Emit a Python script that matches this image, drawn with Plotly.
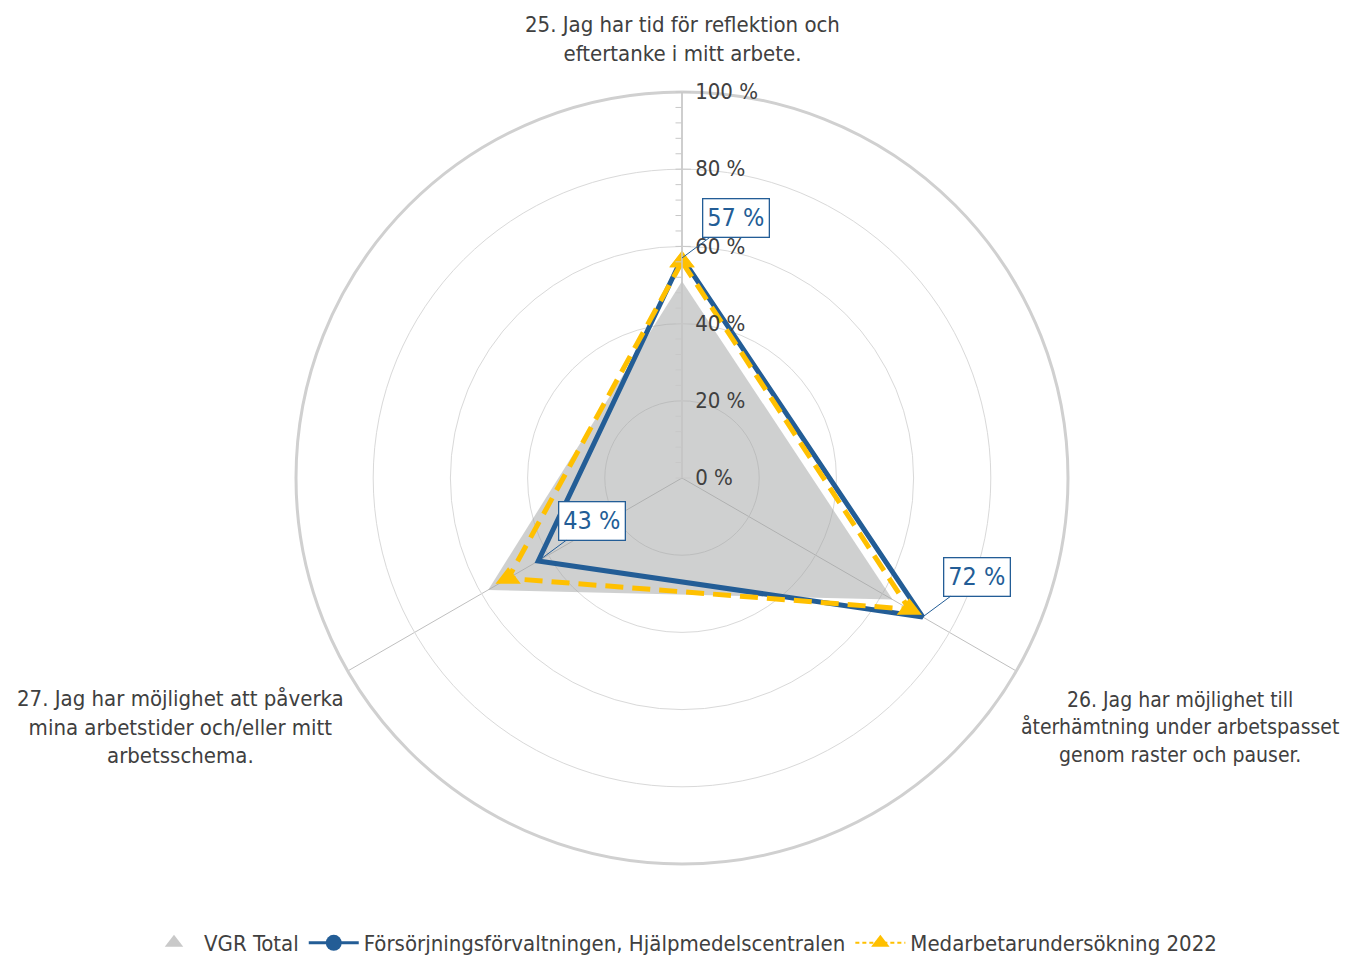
import math
import plotly.graph_objects as go

categories = ["25", "26", "27"]
category_labels = [
    "25. Jag har tid för reflektion och<br>eftertanke i mitt arbete.",
    "26. Jag har möjlighet till<br>återhämtning under arbetspasset<br>genom raster och pauser.",
    "27. Jag har möjlighet att påverka<br>mina arbetstider och/eller mitt<br>arbetsschema.",
]
vgr_total = [51, 63, 58]
forsorjning = [57, 72, 43]
medarb_2022 = [56, 68, 52]
radial_ticks = [0, 20, 40, 60, 80, 100]
radial_ticktext = [f"{v} %" for v in radial_ticks]
minor_ticks = list(range(0, 101, 4))

W, H = 1352, 963
OFF = 8  # page body margin
CX, CY, R = 682 - OFF, 478 - OFF, 386
dom_x = [(CX - R) / W, (CX + R) / W]
dom_y = [(H - CY - R) / H, (H - CY + R) / H]

FONT = "DejaVu Sans Condensed, Liberation Sans Narrow, Noto Sans, sans-serif"
TXT = "#404040"
BLUE = "#235d96"
YEL = "#ffc000"
GREY = "#c9c9c9"

def closed(v):
    return v + v[:1]

theta = closed(categories)

fig = go.Figure()
fig.add_trace(go.Scatterpolar(
    r=closed(vgr_total), theta=theta, name="VGR Total", mode="none",
    fill="toself", fillcolor="rgba(160,162,162,0.5)", showlegend=False,
))
fig.add_trace(go.Scatterpolar(
    r=closed(forsorjning), theta=theta, name="Försörjningsförvaltningen, Hjälpmedelscentralen",
    mode="lines", line=dict(color=BLUE, width=5), showlegend=False,
))
fig.add_trace(go.Scatterpolar(
    r=closed(medarb_2022), theta=theta, name="Medarbetarundersökning 2022",
    mode="lines+markers", line=dict(color=YEL, width=5, dash="18px,9px"),
    marker=dict(symbol="triangle-up", size=22, color=YEL), showlegend=False,
))

# legend entries
fig.add_trace(go.Scatterpolar(
    r=[None], theta=[None], name="VGR Total", mode="markers",
    marker=dict(symbol="triangle-up", size=40, color=GREY),
))
fig.add_trace(go.Scatterpolar(
    r=[None], theta=[None], name="Försörjningsförvaltningen, Hjälpmedelscentralen",
    mode="lines+markers", line=dict(color=BLUE, width=3),
    marker=dict(symbol="circle", size=24, color=BLUE),
))
fig.add_trace(go.Scatterpolar(
    r=[None], theta=[None], name="Medarbetarundersökning 2022",
    mode="lines+markers", line=dict(color=YEL, width=2, dash="4px,3px"),
    marker=dict(symbol="triangle-up", size=20, color=YEL),
))

# minor-tick overlay
fig.add_trace(go.Scatterpolar(r=[None], theta=[None], subplot="polar2", showlegend=False))

# invisible cartesian overlay matching the polar area (for boxed data labels)
fig.add_trace(go.Scatter(x=[], y=[], showlegend=False, hoverinfo="skip"))

angles = {c: 90 - 120 * i for i, c in enumerate(categories)}
for c, v in zip(categories, forsorjning):
    a = math.radians(angles[c])
    fig.add_annotation(
        x=v * math.cos(a), y=v * math.sin(a), xref="x", yref="y",
        text=f"{v} %", showarrow=True, arrowhead=0, arrowwidth=1,
        arrowcolor=BLUE, ax=54, ay=-40, standoff=0,
        bgcolor="white", bordercolor=BLUE, borderwidth=1.3, borderpad=4,
        font=dict(family=FONT, size=25, color=BLUE),
    )

# category labels
label_pos = [(682, 39, 22), (1180, 727, 21), (181, 727, 22)]
for txt, (px, py, fs) in zip(category_labels, label_pos):
    fig.add_annotation(
        x=(px - OFF) / W, y=1 - (py - OFF) / H, xref="paper", yref="paper",
        text=txt, showarrow=False, align="center", xanchor="center", yanchor="middle",
        font=dict(family=FONT, size=fs, color=TXT),
    )

fig.update_layout(
    width=W, height=H,
    margin=dict(l=0, r=0, t=0, b=0),
    paper_bgcolor="white", plot_bgcolor="white",
    font=dict(family=FONT, size=22, color=TXT),
    polar=dict(
        domain=dict(x=dom_x, y=dom_y),
        bgcolor="white",
        radialaxis=dict(
            range=[0, 100], angle=90, tickangle=90, tickvals=radial_ticks, ticktext=radial_ticktext,
            showline=True, linecolor="#c8c8c8", linewidth=1.5,
            gridcolor="#d9d9d9", gridwidth=1, ticks="outside", ticklen=8,
            tickcolor="#c8c8c8", side="clockwise",
            tickfont=dict(family=FONT, size=22, color=TXT),
        ),
        angularaxis=dict(
            rotation=90, direction="clockwise", type="category",
            categoryarray=categories,
            showticklabels=False, ticks="",
            showline=True, linecolor="#d0d0d0", linewidth=3,
            gridcolor="#bfbfbf", gridwidth=1,
        ),
    ),
    polar2=dict(
        domain=dict(x=dom_x, y=dom_y),
        bgcolor="rgba(0,0,0,0)",
        radialaxis=dict(
            range=[0, 100], angle=90, tickvals=minor_ticks, showticklabels=False,
            showline=False, showgrid=False, ticks="inside", ticklen=6,
            tickcolor="#c8c8c8", side="clockwise",
        ),
        angularaxis=dict(
            rotation=90, direction="clockwise", showticklabels=False, ticks="",
            showline=False, showgrid=False,
        ),
    ),
    xaxis=dict(domain=dom_x, range=[-100, 100], visible=False, fixedrange=True),
    yaxis=dict(domain=dom_y, range=[-100, 100], visible=False, fixedrange=True),
    showlegend=True,
    legend=dict(
        orientation="h", x=(683 - OFF) / W, xanchor="center", y=(963 - 943 + OFF) / H,
        yanchor="middle", font=dict(family=FONT, size=22, color=TXT),
        itemwidth=50, tracegroupgap=0,
    ),
)

fig.write_html("out.html")
